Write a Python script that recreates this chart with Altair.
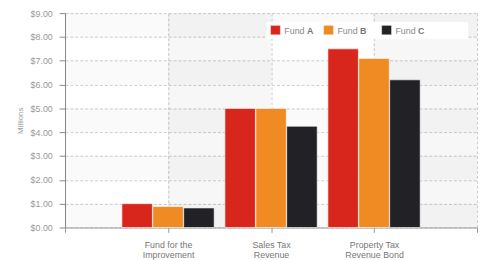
import altair as alt
import pandas as pd

categories = ["Fund for the Improvement", "Sales Tax Revenue", "Property Tax Revenue Bond"]
label_lines = [["Fund for the", "Improvement"], ["Sales Tax", "Revenue"], ["Property Tax", "Revenue Bond"]]
series = ["Fund A", "Fund B", "Fund C"]
series_letters = ["A", "B", "C"]
fund_a = [1.0, 5.0, 7.5]
fund_b = [0.88, 5.0, 7.1]
fund_c = [0.82, 4.25, 6.2]
colors = ["#d9261c", "#ef8b22", "#222226"]
y_ticks = [0, 1, 2, 3, 4, 5, 6, 7, 8, 9]

rows = []
for j, vals in enumerate([fund_a, fund_b, fund_c]):
    for i, v in enumerate(vals):
        rows.append({"category": categories[i], "pos": i + 1, "series": series[j], "sidx": j, "value": v})
df = pd.DataFrame(rows)
one = pd.DataFrame({"k": [0]})

font = "Liberation Sans"
xscale = alt.Scale(domain=[0, 4], nice=False, zero=False)
yscale = alt.Scale(domain=[0, 9], nice=False)

label_expr = " : ".join(
    [f"datum.value == {i+1} ? {label_lines[i]!r}" for i in range(3)]) + " : ''"

x_axis = alt.Axis(values=[0, 1, 2, 3, 4], labelExpr=label_expr, grid=True, gridDash=[3, 2],
                  gridColor="#cccccc", domainColor="#999999", tickColor="#999999", tickSize=5,
                  labelColor="#777777", labelFont=font, labelFontSize=9, labelPadding=8,
                  labelLineHeight=11, labelBaseline="top", labelOverlap=False)
y_axis = alt.Axis(values=y_ticks, format="$.2f", grid=True, gridDash=[3, 2], gridColor="#cccccc",
                  domainColor="#888888", tickColor="#888888", tickSize=6, labelOverlap=False,
                  labelColor="#999999", labelFont=font, labelFontSize=9, labelPadding=7,
                  titleColor="#999999", titleFont=font, titleFontSize=8, titleFontWeight="normal",
                  titlePadding=6)

# background stripes
col_df = pd.DataFrame({"c": [1, 3]})
row_df = pd.DataFrame({"r": [0, 2, 4, 6, 8]})
cols = alt.Chart(col_df).mark_rect(fill="#000000", opacity=0.03).transform_calculate(c2="datum.c+1").encode(
    x=alt.X("c:Q", scale=xscale, axis=x_axis, title=None), x2="c2:Q", y=alt.value(0), y2=alt.value(218))
rowsb = alt.Chart(row_df).mark_rect(fill="#000000", opacity=0.018).transform_calculate(r2="datum.r+1").encode(
    y=alt.Y("r:Q", scale=yscale, axis=y_axis, title="Millions"), y2="r2:Q", x=alt.value(0), x2=alt.value(419))

bars = alt.Chart(df).mark_rect(stroke="#ffffff", strokeOpacity=0.6, strokeWidth=1).transform_calculate(
    x1="datum.pos - 0.448 + datum.sidx * 0.3", x2="datum.pos - 0.448 + datum.sidx * 0.3 + 0.296"
).encode(
    x=alt.X("x1:Q", scale=xscale, title=None, axis=x_axis),
    x2="x2:Q",
    y=alt.Y("value:Q", scale=yscale, title="Millions", axis=y_axis),
    fill=alt.Fill("series:N", scale=alt.Scale(domain=series, range=colors), legend=None),
)

# custom legend (top-right, inside plot)
legend_layers = [
    alt.Chart(one).mark_rect(fill="#ffffff").encode(
        x=alt.value(205), x2=alt.value(410), y=alt.value(9), y2=alt.value(26))
]
sq_x = [209, 263, 322]
for j in range(3):
    legend_layers.append(alt.Chart(one).mark_rect(fill=colors[j], stroke="#ffffff", strokeOpacity=0.4).encode(
        x=alt.value(sq_x[j]), x2=alt.value(sq_x[j] + 10), y=alt.value(12.5), y2=alt.value(22)))
    legend_layers.append(alt.Chart(one).mark_text(text="Fund", align="left", baseline="alphabetic",
                                                  font=font, fontSize=9, color="#8a8a8a").encode(
        x=alt.value(sq_x[j] + 14), y=alt.value(21)))
    legend_layers.append(alt.Chart(one).mark_text(text=series_letters[j], align="left", baseline="alphabetic",
                                                  font=font, fontSize=9, fontWeight="bold", color="#777777").encode(
        x=alt.value(sq_x[j] + 37), y=alt.value(21)))

chart = alt.layer(rowsb, cols, bars, *legend_layers).properties(
    width=419, height=218,
    padding={"left": 58, "top": 3, "right": 3, "bottom": 40},
    autosize=alt.AutoSizeParams(type="none"),
    background="#ffffff",
).configure_view(stroke=None)

chart.save("out.html", embed_options={"renderer": "svg", "actions": False})
